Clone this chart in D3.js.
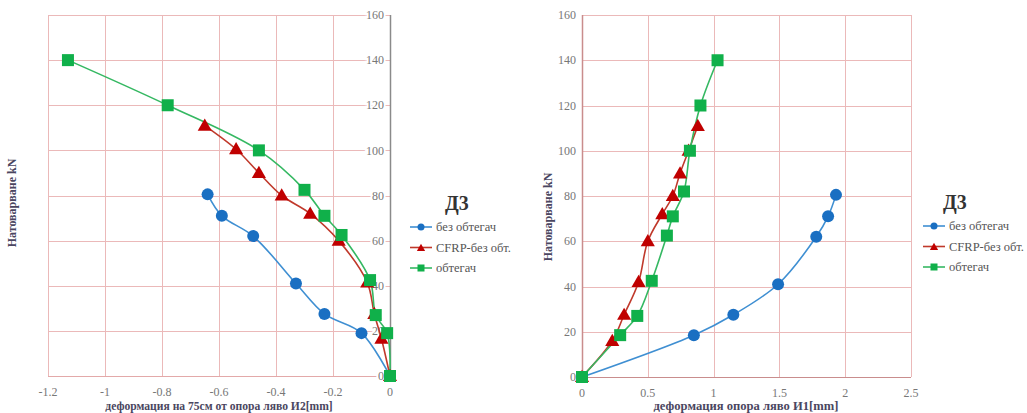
<!DOCTYPE html>
<html>
<head>
<meta charset="utf-8">
<script src="https://cdn.jsdelivr.net/npm/d3@7"></script>
<style>
  body { margin: 0; background: #fff; }
  text { font-family: 'Liberation Serif', 'DejaVu Serif', 'Times New Roman', serif; }
</style>
</head>
<body>
<svg id="chart" width="1027" height="413"></svg>
<script>
// series names
var seriesNames = ["без обтегач", "CFRP-без обт.", "обтегач"];
var legendTitle = "Д3";

// left chart: deformation at 75cm (И2), mm vs load kN
var leftBlue  = [[-0.64,80.5],[-0.59,71],[-0.48,62],[-0.33,41],[-0.23,27.5],[-0.1,19],[0,0]];
var leftRed   = [[-0.65,111],[-0.54,100.5],[-0.46,90],[-0.38,80],[-0.28,72],[-0.18,60],[-0.08,41.5],[-0.055,27.5],[-0.03,16.5],[0,0]];
var leftGreen = [[-1.13,140],[-0.78,120],[-0.46,100],[-0.3,82.5],[-0.23,71],[-0.17,62.5],[-0.07,42.5],[-0.05,27],[-0.01,19],[0,0]];

// right chart: deformation at support (И1), mm vs load kN
var rightBlue  = [[1.93,80.5],[1.87,71],[1.78,62],[1.49,41],[1.15,27.5],[0.85,18.5],[0,0]];
var rightRed   = [[0.88,111],[0.81,100],[0.745,90],[0.69,80],[0.61,72],[0.5,60],[0.43,42],[0.32,27.5],[0.23,16],[0,0]];
var rightGreen = [[1.03,140],[0.9,120],[0.82,100],[0.775,82],[0.69,71],[0.645,62.5],[0.53,42.5],[0.42,27],[0.29,18.5],[0,0]];

var leftXTicks  = [-1.2,-1,-0.8,-0.6,-0.4,-0.2,0];
var rightXTicks = [0,0.5,1,1.5,2,2.5];
var yTicks = [0,20,40,60,80,100,120,140,160];

var colors = {
  line: ["#3f8fd2", "#c0392b", "#35b862"],
  mark: ["#1a6fc2", "#c00000", "#10b04a"]
};

var FONT = "Liberation Serif, DejaVu Serif, serif";

var svg = d3.select("#chart");

// snap to pixel centre so 1px lines stay crisp
function px(v) { return Math.round(v) + 0.5; }

function drawMarker(g, type, x, y, size, color) {
  if (type === 0) {
    g.append("circle").attr("cx", x).attr("cy", y).attr("r", size / 2).attr("fill", color);
  } else if (type === 1) {
    g.append("path")
      .attr("d", d3.symbol().type(d3.symbolTriangle).size(size * size * 0.6)())
      .attr("transform", "translate(" + x + "," + (y + 1) + ")")
      .attr("fill", color);
  } else {
    g.append("rect").attr("x", x - size / 2).attr("y", y - size / 2)
      .attr("width", size).attr("height", size).attr("fill", color);
  }
}

function drawChart(opt) {
  var g = svg.append("g");
  var x = d3.scaleLinear().domain(opt.xDomain).range(opt.xRange);
  var y = d3.scaleLinear().domain([0, 160]).range(opt.yRange);

  // grid
  g.selectAll(".vgrid").data(opt.xTicks).enter().append("line")
      .attr("x1", function(d) { return px(x(d)); }).attr("x2", function(d) { return px(x(d)); })
      .attr("y1", y(0)).attr("y2", y(160))
      .attr("stroke", "#ebb9b9").attr("stroke-width", 1);
  g.selectAll(".hgrid").data(yTicks).enter().append("line")
      .attr("x1", x(opt.xDomain[0])).attr("x2", x(opt.xDomain[1]))
      .attr("y1", function(d) { return px(y(d)); }).attr("y2", function(d) { return px(y(d)); })
      .attr("stroke", "#ebb9b9").attr("stroke-width", 1);

  // axis lines
  g.append("line")
      .attr("x1", x(opt.xDomain[0])).attr("x2", x(opt.xDomain[1]))
      .attr("y1", px(y(0))).attr("y2", px(y(0)))
      .attr("stroke", opt.xAxisColor).attr("stroke-width", 1.2);
  g.append("line")
      .attr("x1", px(x(opt.yAxisAt))).attr("x2", px(x(opt.yAxisAt)))
      .attr("y1", y(0)).attr("y2", y(160))
      .attr("stroke", opt.yAxisColor).attr("stroke-width", 1.5);

  // y tick labels
  g.selectAll(".ylab").data(yTicks).enter().append("text")
      .attr("x", x(opt.yAxisAt) - 6).attr("y", function(d) { return y(d); })
      .attr("dy", "0.35em").attr("text-anchor", "end")
      .attr("font-family", FONT)
      .attr("font-size", 12).attr("fill", "#777")
      .attr("stroke", "#fff").attr("stroke-width", 4).attr("paint-order", "stroke")
      .text(function(d) { return d; });

  // x tick labels
  g.selectAll(".xlab").data(opt.xTicks).enter().append("text")
      .attr("x", function(d) { return x(d); }).attr("y", y(0) + 20)
      .attr("text-anchor", "middle")
      .attr("font-family", FONT)
      .attr("font-size", 12).attr("fill", "#777")
      .text(function(d) { return d; });

  // axis titles
  g.append("text")
      .attr("x", opt.xTitleX).attr("y", 410)
      .attr("text-anchor", "middle")
      .attr("font-family", FONT)
      .attr("font-size", opt.xTitleSize).attr("font-weight", "bold")
      .attr("fill", "#4a4660")
      .text(opt.xTitle);
  g.append("text")
      .attr("transform", "translate(" + opt.yTitleX + "," + opt.yTitleY + ") rotate(-90)")
      .attr("text-anchor", "middle")
      .attr("font-family", FONT)
      .attr("font-size", 12).attr("font-weight", "bold")
      .attr("fill", "#4a4660")
      .text("Натоварване kN");

  // series
  var line = d3.line()
      .x(function(d) { return x(d[0]); })
      .y(function(d) { return y(d[1]); })
      .curve(d3.curveCatmullRom.alpha(0.5));

  opt.series.forEach(function(s, i) {
    g.append("path").datum(s)
        .attr("d", line)
        .attr("fill", "none")
        .attr("stroke", colors.line[i]).attr("stroke-width", 1.6);
  });
  opt.series.forEach(function(s, i) {
    s.forEach(function(p) {
      drawMarker(g, i, x(p[0]), y(p[1]), 12, colors.mark[i]);
    });
  });

  // legend
  var lg = svg.append("g").attr("transform", "translate(" + opt.legendX + "," + opt.legendY + ")");
  lg.append("text")
      .attr("x", opt.legendTitleDx).attr("y", -17)
      .attr("text-anchor", "middle")
      .attr("font-family", FONT)
      .attr("font-size", 20).attr("font-weight", "bold")
      .attr("fill", "#333")
      .text(legendTitle);
  seriesNames.forEach(function(name, i) {
    var ly = i * 20.5;
    lg.append("line").attr("x1", 0).attr("x2", 22).attr("y1", ly).attr("y2", ly)
        .attr("stroke", colors.line[i]).attr("stroke-width", 1.6);
    drawMarker(lg, i, 11, ly, 7, colors.mark[i]);
    lg.append("text").attr("x", 26).attr("y", ly).attr("dy", "0.35em")
        .attr("font-family", FONT)
        .attr("font-size", 12.5).attr("fill", "#555")
        .text(name);
  });
}

drawChart({
  xDomain: [-1.2, 0], xRange: [48, 390], yRange: [376, 15],
  xTicks: leftXTicks, yAxisAt: 0,
  xAxisColor: "#e3a9a9", yAxisColor: "#8a8a8a",
  xTitle: "деформация на 75см от опора ляво И2[mm]", xTitleX: 219, xTitleSize: 11.6,
  yTitleX: 16, yTitleY: 203,
  series: [leftBlue, leftRed, leftGreen],
  legendX: 410, legendY: 227, legendTitleDx: 47
});

drawChart({
  xDomain: [0, 2.5], xRange: [582, 911], yRange: [377, 15],
  xTicks: rightXTicks, yAxisAt: 0,
  xAxisColor: "#c98d8d", yAxisColor: "#c98d8d",
  xTitle: "деформация опора ляво И1[mm]", xTitleX: 746, xTitleSize: 12.6,
  yTitleX: 552, yTitleY: 217,
  series: [rightBlue, rightRed, rightGreen],
  legendX: 923, legendY: 226, legendTitleDx: 32
});
</script>
</body>
</html>
